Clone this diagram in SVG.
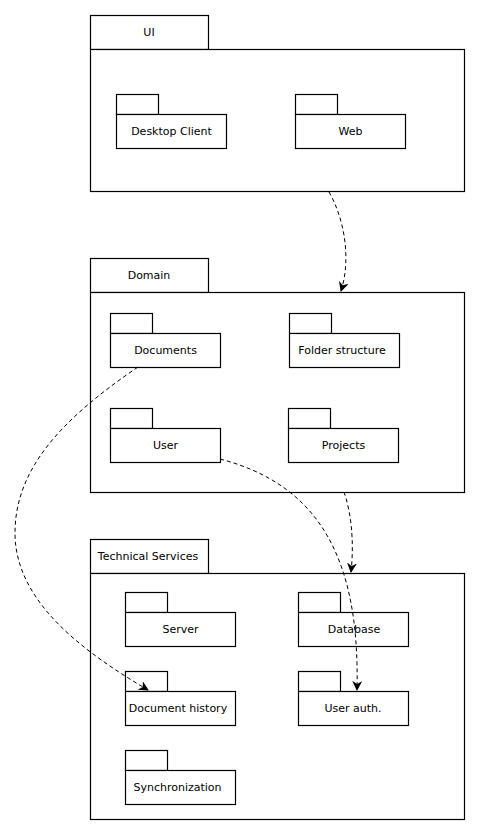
<svg xmlns="http://www.w3.org/2000/svg" width="479" height="834" viewBox="0 0 479 834">
<style>
.b{fill:#fff;stroke:#000;stroke-width:1.2}
.t{font-family:"DejaVu Sans",sans-serif;font-size:11px;fill:#000;text-anchor:middle}
.c{fill:none;stroke:#000;stroke-width:1;stroke-dasharray:4 3}
</style>
<defs>
<marker id="ah" viewBox="0 0 10 10" refX="9" refY="5" markerWidth="10" markerHeight="10" markerUnits="userSpaceOnUse" orient="auto">
<path d="M0,0 L10,5 L0,10 L3,5 Z" fill="#000"/>
</marker>
</defs>
<rect width="479" height="834" fill="#fff"/>
<g id="ui">
<rect class="b" x="90.5" y="15.5" width="118" height="34"/>
<rect class="b" x="90.5" y="49.5" width="374" height="142"/>
<text class="t" x="149" y="36">UI</text>
</g>
<g id="desktop-client">
<rect class="b" x="116.5" y="94.5" width="42" height="20"/>
<rect class="b" x="116.5" y="114.5" width="110" height="34"/>
<text class="t" x="171.5" y="135">Desktop Client</text>
</g>
<g id="web">
<rect class="b" x="295.5" y="94.5" width="42" height="20"/>
<rect class="b" x="295.5" y="114.5" width="110" height="34"/>
<text class="t" x="350.5" y="135">Web</text>
</g>
<g id="domain">
<rect class="b" x="90.5" y="258.5" width="118" height="34"/>
<rect class="b" x="90.5" y="292.5" width="374" height="200"/>
<text class="t" x="149" y="279">Domain</text>
</g>
<g id="documents">
<rect class="b" x="110.5" y="313.5" width="42" height="20"/>
<rect class="b" x="110.5" y="333.5" width="110" height="34"/>
<text class="t" x="165.5" y="354">Documents</text>
</g>
<g id="folder-structure">
<rect class="b" x="289.5" y="313.5" width="42" height="20"/>
<rect class="b" x="289.5" y="333.5" width="110" height="34"/>
<text class="t" x="342" y="354">Folder structure</text>
</g>
<g id="user">
<rect class="b" x="110.5" y="408.5" width="42" height="20"/>
<rect class="b" x="110.5" y="428.5" width="110" height="34"/>
<text class="t" x="165.5" y="449">User</text>
</g>
<g id="projects">
<rect class="b" x="288.5" y="408.5" width="42" height="20"/>
<rect class="b" x="288.5" y="428.5" width="110" height="34"/>
<text class="t" x="343.5" y="449">Projects</text>
</g>
<g id="technical-services">
<rect class="b" x="90.5" y="539.5" width="118" height="34"/>
<rect class="b" x="90.5" y="573.5" width="374" height="246"/>
<text class="t" x="148" y="560">Technical Services</text>
</g>
<g id="server">
<rect class="b" x="125.5" y="592.5" width="42" height="20"/>
<rect class="b" x="125.5" y="612.5" width="110" height="34"/>
<text class="t" x="180.5" y="633">Server</text>
</g>
<g id="database">
<rect class="b" x="298.5" y="592.5" width="42" height="20"/>
<rect class="b" x="298.5" y="612.5" width="110" height="34"/>
<text class="t" x="354" y="633">Database</text>
</g>
<g id="document-history">
<rect class="b" x="125.5" y="671.5" width="42" height="20"/>
<rect class="b" x="125.5" y="691.5" width="110" height="34"/>
<text class="t" x="178" y="712">Document history</text>
</g>
<g id="user-auth">
<rect class="b" x="298.5" y="671.5" width="42" height="20"/>
<rect class="b" x="298.5" y="691.5" width="110" height="34"/>
<text class="t" x="353" y="712">User auth.</text>
</g>
<g id="synchronization">
<rect class="b" x="125.5" y="750.5" width="42" height="20"/>
<rect class="b" x="125.5" y="770.5" width="110" height="34"/>
<text class="t" x="177.5" y="791">Synchronization</text>
</g>
<g id="connectors">
<path class="c" d="M329,192 C345,220 351,260 341,291" marker-end="url(#ah)"/>
<path class="c" d="M344,492 C352,515 354,545 351,572" marker-end="url(#ah)"/>
<path class="c" d="M138,367 C60,420 15,470 15,533 C15,600 80,650 148,690" marker-end="url(#ah)"/>
<path class="c" d="M220,459 C320,485 360,560 357,690" marker-end="url(#ah)"/>
</g>
</svg>
